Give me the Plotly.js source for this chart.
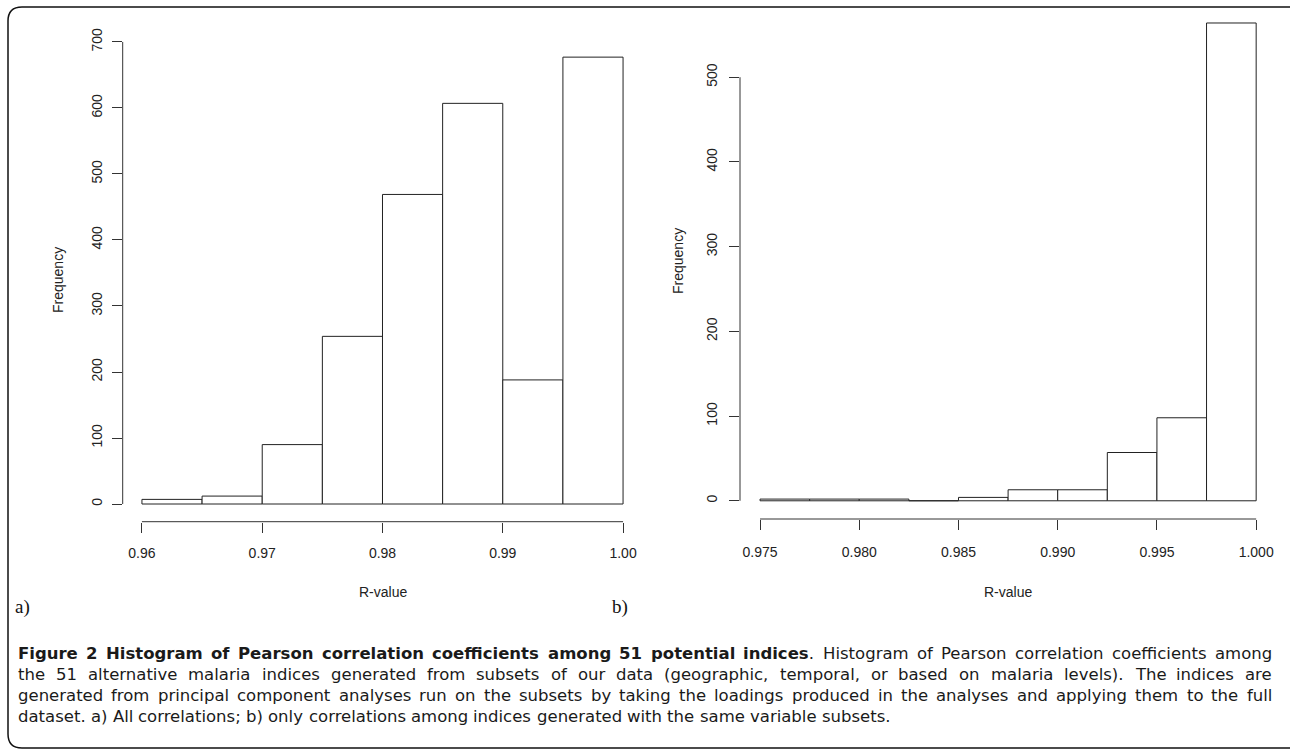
<!DOCTYPE html>
<html>
<head>
<meta charset="utf-8">
<script src="https://cdn.plot.ly/plotly-3.0.1.min.js"></script>
<style>
  html, body { margin: 0; padding: 0; background: #fff; }
  #chart { width: 1290px; height: 750px; }
</style>
</head>
<body>
<div id="chart"></div>
<script>
// ---------- data ----------
// Panel a) all correlations: bin left edges (width 0.005) and counts
const binStartA = [0.960, 0.965, 0.970, 0.975, 0.980, 0.985, 0.990, 0.995];
const countsA   = [7, 12, 90, 254, 469, 607, 188, 677];
const binWidthA = 0.005;
const xTickValsA = [0.96, 0.97, 0.98, 0.99, 1.00];
const xTickTextA = ["0.96", "0.97", "0.98", "0.99", "1.00"];
const yTickValsA = [0, 100, 200, 300, 400, 500, 600, 700];

// Panel b) correlations within the same variable subsets: bin left edges (width 0.0025)
const binStartB = [0.9750, 0.9775, 0.9800, 0.9825, 0.9850, 0.9875, 0.9900, 0.9925, 0.9950, 0.9975];
const countsB   = [2, 2, 2, 0, 4, 13, 13, 57, 98, 564];
const binWidthB = 0.0025;
const xTickValsB = [0.975, 0.980, 0.985, 0.990, 0.995, 1.000];
const xTickTextB = ["0.975", "0.980", "0.985", "0.990", "0.995", "1.000"];
const yTickValsB = [0, 100, 200, 300, 400, 500];

const xTitle = "R-value";
const yTitle = "Frequency";
const panelLabels = ["a)", "b)"];

const captionLines = [
  [{t: "Figure 2 Histogram of Pearson correlation coefficients among 51 potential indices", b: true},
   {t: ". Histogram of Pearson correlation coefficients among", b: false}],
  [{t: "the 51 alternative malaria indices generated from subsets of our data (geographic, temporal, or based on malaria levels). The indices are", b: false}],
  [{t: "generated from principal component analyses run on the subsets by taking the loadings produced in the analyses and applying them to the full", b: false}],
  [{t: "dataset. a) All correlations; b) only correlations among indices generated with the same variable subsets.", b: false}]
];

// ---------- layout helpers ----------
const W = 1290, H = 750;
const px = v => v / W;
const py = v => 1 - v / H;
const AX_FONT = {family: "Liberation Sans, Arial, sans-serif", size: 14, color: "#222"};
const LINE_COL = "#333";

async function build() {
  const capFamily = "DejaVu Sans";
  try { await document.fonts.load('16px "DejaVu Sans"'); await document.fonts.load('bold 16px "DejaVu Sans"'); } catch (e) {}
  const ctx = document.createElement("canvas").getContext("2d");
  const measure = (s, bold, size) => { ctx.font = (bold ? "bold " : "") + size + 'px "' + capFamily + '", sans-serif'; return ctx.measureText(s).width; };

  // size the caption so the final (unjustified) line ends near x = 963
  let capSize = 15 * (945 / measure(captionLines[3][0].t, false, 15));
  capSize = Math.max(14, Math.min(16.5, capSize));

  const traces = [
    {type: "bar", x: binStartA, y: countsA, width: binWidthA, offset: 0,
     xaxis: "x", yaxis: "y",
     marker: {color: "#ffffff", line: {color: "#222", width: 1}}, hoverinfo: "x+y"},
    {type: "bar", x: binStartB, y: countsB, width: binWidthB, offset: 0,
     xaxis: "x2", yaxis: "y2",
     marker: {color: "#ffffff", line: {color: "#222", width: 1}}, hoverinfo: "x+y"}
  ];

  const axCommon = {showgrid: false, zeroline: false, showline: false, ticks: "outside",
                    ticklen: 10, tickwidth: 1, tickcolor: LINE_COL, tickfont: AX_FONT, fixedrange: true};

  const annotations = [];
  // axis titles
  annotations.push({xref: "paper", yref: "paper", x: px(382.5), y: py(592), text: xTitle, showarrow: false, font: AX_FONT, xanchor: "center", yanchor: "middle"});
  annotations.push({xref: "paper", yref: "paper", x: px(1008), y: py(592), text: xTitle, showarrow: false, font: AX_FONT, xanchor: "center", yanchor: "middle"});
  annotations.push({xref: "paper", yref: "paper", x: px(58), y: py(280), text: yTitle, textangle: -90, showarrow: false, font: AX_FONT, xanchor: "center", yanchor: "middle"});
  annotations.push({xref: "paper", yref: "paper", x: px(678), y: py(261), text: yTitle, textangle: -90, showarrow: false, font: AX_FONT, xanchor: "center", yanchor: "middle"});
  // panel labels
  const serif = {family: "Liberation Serif, Times New Roman, serif", size: 19, color: "#111"};
  annotations.push({xref: "paper", yref: "paper", x: px(13), y: py(607), text: panelLabels[0], showarrow: false, font: serif, xanchor: "left", yanchor: "middle"});
  annotations.push({xref: "paper", yref: "paper", x: px(610), y: py(607), text: panelLabels[1], showarrow: false, font: serif, xanchor: "left", yanchor: "middle"});

  // caption, justified lines 1-3
  const capLeft = 18, capRight = 1272;
  const lineY = [653, 674, 695, 716];
  captionLines.forEach((segs, li) => {
    const words = [];
    segs.forEach(seg => {
      const parts = seg.t.split(" ");
      parts.forEach((p, i) => {
        if (p === "") return;
        if (i === 0 && words.length && /^[.,;]/.test(p) && !seg.b) {
          const m = p.match(/^([.,;]+)(.*)$/);
          const prev = words[words.length - 1];
          prev.pieces.push({t: m[1], b: seg.b});
          if (m[2]) words.push({pieces: [{t: m[2], b: seg.b}]});
          return;
        }
        words.push({pieces: [{t: p, b: seg.b}]});
      });
    });
    words.forEach(w => {
      w.width = w.pieces.reduce((s, pc) => s + measure(pc.t, pc.b, capSize), 0);
      w.html = w.pieces.map(pc => pc.b ? "<b>" + pc.t + "</b>" : pc.t).join("");
    });
    const total = words.reduce((s, w) => s + w.width, 0);
    let gap = measure(" ", false, capSize);
    if (li < 3) gap = (capRight - capLeft - total) / (words.length - 1);
    let xpos = capLeft;
    words.forEach(w => {
      annotations.push({xref: "paper", yref: "paper", x: px(xpos), y: py(lineY[li]), text: w.html,
        showarrow: false, xanchor: "left", yanchor: "middle", borderpad: 0, borderwidth: 0,
        font: {family: capFamily + ", sans-serif", size: capSize, color: "#1a1a1a"}});
      xpos += w.width + gap;
    });
  });

  // axis lines (R style: only across the tick range) and the figure frame
  const shapes = [
    {type: "line", xref: "x", yref: "paper", x0: 0.96, x1: 1.00, y0: py(521.7), y1: py(521.7), line: {color: LINE_COL, width: 1}},
    {type: "line", xref: "paper", yref: "y", x0: px(122.7), x1: px(122.7), y0: 0, y1: 700, line: {color: LINE_COL, width: 1}},
    {type: "line", xref: "x2", yref: "paper", x0: 0.975, x1: 1.000, y0: py(519), y1: py(519), line: {color: LINE_COL, width: 1}},
    {type: "line", xref: "paper", yref: "y2", x0: px(740), x1: px(740), y0: 0, y1: 500, line: {color: LINE_COL, width: 1}},
    {type: "path", xref: "paper", yref: "paper",
     path: "M " + px(1290) + " " + py(7) + " L " + px(22) + " " + py(7) +
           " Q " + px(8) + " " + py(7) + " " + px(8) + " " + py(21) +
           " L " + px(8) + " " + py(734) +
           " Q " + px(8) + " " + py(748) + " " + px(22) + " " + py(748) +
           " L " + px(1290) + " " + py(748),
     line: {color: "#111", width: 1.5}}
  ];

  const layout = {
    width: W, height: H,
    margin: {l: 0, r: 0, t: 0, b: 0, pad: 0},
    paper_bgcolor: "#ffffff", plot_bgcolor: "rgba(0,0,0,0)",
    showlegend: false,
    bargap: 0,
    xaxis: Object.assign({}, axCommon, {domain: [px(122.7), px(642.3)], range: [0.9584, 1.0016], anchor: "y",
      tickvals: xTickValsA, ticktext: xTickTextA, ticklabelstandoff: 8}),
    yaxis: Object.assign({}, axCommon, {domain: [py(521.7), py(38)], range: [-26.8, 706], anchor: "x",
      tickvals: yTickValsA, ticktext: yTickValsA.map(String), tickangle: -90, ticklabelstandoff: 4}),
    xaxis2: Object.assign({}, axCommon, {domain: [px(740), px(1276)], range: [0.97399, 1.001], anchor: "y2",
      tickvals: xTickValsB, ticktext: xTickTextB, ticklabelstandoff: 10}),
    yaxis2: Object.assign({}, axCommon, {domain: [py(519), py(3)], range: [-21.5, 587.6], anchor: "x2",
      tickvals: yTickValsB, ticktext: yTickValsB.map(String), tickangle: -90, ticklabelstandoff: 6}),
    annotations: annotations,
    shapes: shapes
  };

  Plotly.newPlot("chart", traces, layout, {displayModeBar: false, staticPlot: true});
}
build();
</script>
</body>
</html>
